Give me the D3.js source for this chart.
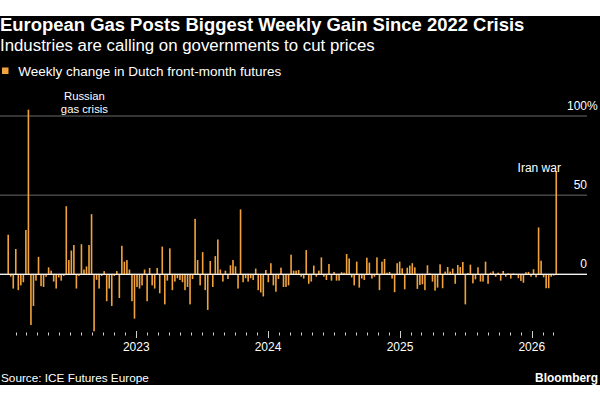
<!DOCTYPE html>
<html>
<head>
<meta charset="utf-8">
<script src="https://cdn.jsdelivr.net/npm/d3@7/dist/d3.min.js"></script>
<style>
  html, body { margin: 0; padding: 0; background: #ffffff; }
  svg { display: block; }
  text { font-family: "Liberation Sans", Arial, sans-serif; }
</style>
</head>
<body>
<svg id="chart" width="600" height="400"></svg>
<script>
// ---------- data ----------
const seriesName = "Weekly change in Dutch front-month futures";
const firstWeek = "2022-01-11";
// weekly % change, one value per week starting at firstWeek
const weeklyChange = [
  25, -1.5, -9, 16, -10, -7, -5, 28, 104, -32,
  -20, -4, 11, -7.5, -8, -1.5, 4.4, 2.3, -4.6, -9,
  -2, -4, -1, 43, 9, 15, 18.5, -9, -1, 19,
  3, 5, 18.5, 38, -36, -3.5, -9, -1, 2, -17,
  -9, -20, -1, 2, -15, 18, 8, 9, 3, -17,
  -28, -8, -9, -7, 3, -17, 4, -7, -9, 4,
  -12, 17.5, -19, -4, 16.4, -10, -4.6, -2.5, -3.6, -5,
  -10, -8, -19, -3, 35, 9, -7, 14, -10, -22.5,
  8.4, -8, 11.5, 22, 3, -4.6, 2.3, -3, 5.7, 9,
  5, -9, 41, -5, -2.5, -4.6, -2.5, -3.6, 3.6, -10,
  -11.5, -14, 2.7, -5, 7, -7, -11, -3, 4.2, -8,
  -8, -7, 12.4, 2.3, 2.3, 2.7, -1.5, -2.7, 15.3, -6,
  -4.6, 5.5, -1.5, 2.3, 10.7, -1.5, -3.6, 6.5, -4, 1.5,
  -4, -4, 1.3, 1, 12.8, 10, -2, -7, 8, -8.4,
  -2.7, -3.6, 10.5, 7.4, -2.7, -1.5, 10.7, -10, 8, 9.7,
  1, 1.5, -2.7, -11.3, 7, 8, 3.8, -9.5, 4.2, 5.5,
  7, 4.4, -9.2, -6.7, -6.3, -10, 5.7, 0.6, -4.6, -10.3,
  -8.4, 6.3, -8.8, 1.7, 4.6, 1.7, 3.6, -6, 5.9, 4.6,
  7.8, -19, 0.8, 6.1, -5.7, -3.2, 4.4, -4.6, -4.6, 8,
  -6, 1, 1.9, -1.5, 1, -4, 2.1, -1.5, 0.6, -2.7,
  0.5, -0.5, -2.5, -4.2, -5.3, 1.3, 1.5, -1.5, 3.2, -1.9,
  29.6, 8.6, -1.9, -8.8, -8.8, -1.5, -0.8, 65
];
const yTicks = [0, 50, 100];
const yearTicks = ["2023-01-01", "2024-01-01", "2025-01-01", "2026-01-01"];
const yearLabels = ["2023", "2024", "2025", "2026"];
const annotationTexts = [["Russian", "gas crisis"], ["Iran war"]];
const titleText = "European Gas Posts Biggest Weekly Gain Since 2022 Crisis";
const subtitleText = "Industries are calling on governments to cut prices";
const sourceText = "Source: ICE Futures Europe";
const brandText = "Bloomberg";

// ---------- layout ----------
const W = 600;
const parse = d3.utcParse("%Y-%m-%d");
const start = parse(firstWeek);
const data = weeklyChange.map((v, i) => ({ date: d3.utcDay.offset(start, 7 * i), value: v }));

const svg = d3.select("#chart");
const BAR = "#f2a33d";

svg.append("rect").attr("x", 0).attr("y", 16).attr("width", W).attr("height", 369).attr("fill", "#000");

const x = d3.scaleUtc()
  .domain([parse("2022-01-01"), parse("2026-04-01")])
  .range([4.6, 564.2]);
const y = d3.scaleLinear().domain([0, 100]).range([274.3, 116]);

function fit(sel, target) {
  const w = sel.node().getComputedTextLength();
  const fs = parseFloat(sel.attr("font-size"));
  sel.attr("font-size", (fs * target / w).toFixed(2));
}

// Title / subtitle
const t = svg.append("text").attr("x", 0).attr("y", 30.7).attr("fill", "#fff")
  .attr("font-size", 16).attr("font-weight", "bold").text(titleText);
fit(t, 525);
const st = svg.append("text").attr("x", 0).attr("y", 50.5).attr("fill", "#fff")
  .attr("font-size", 15).text(subtitleText);
fit(st, 375);

// Legend
svg.append("rect").attr("x", 2).attr("y", 67.5).attr("width", 6.5).attr("height", 6.5).attr("fill", BAR);
const lg = svg.append("text").attr("x", 18.3).attr("y", 76).attr("fill", "#fff")
  .attr("font-size", 12).text(seriesName);
fit(lg, 263);

// Gridlines
svg.append("g").selectAll("line").data(yTicks).join("line")
  .attr("x1", 0).attr("x2", 587)
  .attr("y1", d => y(d)).attr("y2", d => y(d))
  .attr("stroke", d => d === 0 ? "#ffffff" : "#6a6a6a")
  .attr("stroke-width", 1);

// Y labels
const yl = svg.append("g").selectAll("text").data(yTicks).join("text")
  .attr("x", 587).attr("y", d => y(d) - 6.3)
  .attr("fill", "#fff").attr("font-size", 12).attr("text-anchor", "end")
  .text(d => d);
yl.filter(d => d === 100).append("tspan").attr("x", 587).attr("text-anchor", "start").text("%");

// Bars
svg.append("g").selectAll("rect").data(data).join("rect")
  .attr("x", d => x(d.date) - 0.8)
  .attr("width", 1.6)
  .attr("y", d => Math.min(y(d.value), y(0)))
  .attr("height", d => Math.abs(y(d.value) - y(0)))
  .attr("fill", BAR);

// zero line on top
svg.append("line").attr("x1", 0).attr("x2", 587).attr("y1", y(0)).attr("y2", y(0))
  .attr("stroke", "#fff").attr("stroke-width", 1);

// X axis ticks
const months = d3.utcMonth.range(parse("2022-02-01"), parse("2026-04-01"));
svg.append("g").selectAll("line").data(months).join("line")
  .attr("x1", d => Math.round(x(d)) + 0.5).attr("x2", d => Math.round(x(d)) + 0.5)
  .attr("y1", d => d.getUTCMonth() === 0 ? 331 : 332.5)
  .attr("y2", d => d.getUTCMonth() === 0 ? 338 : 335.5)
  .attr("stroke", "#d0d0d0").attr("stroke-width", 1);

svg.append("g").selectAll("text").data(yearTicks).join("text")
  .attr("x", d => x(parse(d))).attr("y", 351)
  .attr("text-anchor", "middle").attr("fill", "#fff").attr("font-size", 12)
  .text((d, i) => yearLabels[i]);

// Annotations
const spike = data[8];
const last = data[data.length - 1];
const annG = svg.append("g");
annotationTexts[0].forEach((line, i) => {
  annG.append("text")
    .attr("x", x(spike.date) + 56).attr("y", 100 + i * 12.6)
    .attr("fill", "#fff").attr("font-size", 11.3).attr("text-anchor", "middle")
    .text(line);
});
annG.append("text").attr("x", x(last.date) - 17).attr("y", y(last.value) + 0.5)
  .attr("fill", "#fff").attr("font-size", 12).attr("text-anchor", "middle")
  .text(annotationTexts[1][0]);

// Footer
const src = svg.append("text").attr("x", 1).attr("y", 382).attr("fill", "#fff")
  .attr("font-size", 12).text(sourceText);
fit(src, 148);
const br = svg.append("text").attr("x", 598).attr("y", 382).attr("fill", "#fff")
  .attr("font-size", 12).attr("font-weight", "bold").attr("text-anchor", "end").text(brandText);
fit(br, 63);
</script>
</body>
</html>
